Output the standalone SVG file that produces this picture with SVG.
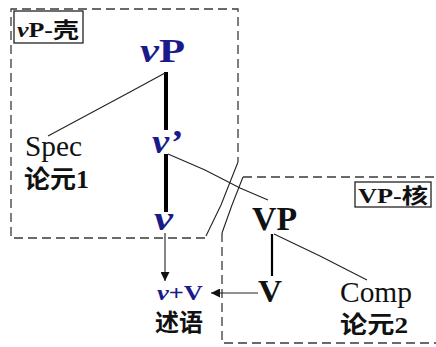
<svg xmlns="http://www.w3.org/2000/svg" width="436" height="347" viewBox="0 0 436 347">
<style>
.dash{fill:none;stroke:#3a3a3a;stroke-width:1.3;stroke-dasharray:9 5}
.edge{fill:none;stroke:#222;stroke-width:1.1}
.thick{fill:none;stroke:#000;stroke-width:4}
.mid{fill:none;stroke:#000;stroke-width:2.2}
.lab{fill:none;stroke:#222;stroke-width:1.3}
.t{font-family:"Liberation Serif","Noto Sans CJK SC",serif;fill:#111}
.navy{fill:#1a1a8a}
.b{font-weight:bold}
.i{font-style:italic}
.cjk{font-family:"Noto Sans CJK SC","Liberation Serif",sans-serif}
</style>
<defs>
<marker id="arr" markerUnits="userSpaceOnUse" markerWidth="9" markerHeight="9" refX="9" refY="4.5" orient="auto">
<path d="M0,0 L9,4.5 L0,9 z" fill="#111"/>
</marker>
</defs>
<rect width="436" height="347" fill="#fff"/>
<g id="shell-box">
<path class="dash" d="M205,238 H11 V9 H238 V162"/>
<path class="edge" d="M238,162 L221,205 L206,236"/>
<rect class="lab" x="14" y="11" width="69" height="32"/>
<text class="t b" x="17" y="37" font-size="21" textLength="62" lengthAdjust="spacingAndGlyphs"><tspan class="i">v</tspan>P-<tspan class="cjk">壳</tspan></text>
</g>
<g id="core-box">
<path class="dash" d="M243,177 H436 M222,233 V343 H436"/>
<path class="edge" d="M222,233 L232,205 L243,177"/>
<rect class="lab" x="355" y="182" width="76" height="25"/>
<text class="t b" x="358" y="203" font-size="21" textLength="70" lengthAdjust="spacingAndGlyphs">VP-<tspan class="cjk">核</tspan></text>
</g>
<g id="connectors">
<line class="thick" x1="166" y1="72" x2="166" y2="130"/>
<line class="thick" x1="166" y1="154" x2="166" y2="212"/>
<path class="edge" d="M165,73 L130,92 L48,136"/>
<path class="edge" d="M168,154 L205,170 L240,188 L268,200"/>
<line class="mid" x1="272" y1="234" x2="272" y2="276"/>
<path class="edge" d="M274,234 L320,256 L367,280"/>
<line class="edge" x1="165" y1="233" x2="165" y2="281" marker-end="url(#arr)"/>
<line class="edge" x1="258" y1="293" x2="211" y2="293" marker-end="url(#arr)"/>
</g>
<g id="vP">
<text class="t b navy" x="140" y="62" font-size="33" textLength="45" lengthAdjust="spacingAndGlyphs"><tspan class="i">v</tspan>P</text>
</g>
<g id="v-bar">
<text class="t b navy i" x="152" y="153" font-size="33" textLength="30" lengthAdjust="spacingAndGlyphs">v’</text>
</g>
<g id="v">
<text class="t b navy i" x="154" y="230" font-size="33" textLength="19" lengthAdjust="spacingAndGlyphs">v</text>
</g>
<g id="spec">
<text class="t" x="25" y="156" font-size="29" textLength="57" lengthAdjust="spacingAndGlyphs">Spec</text>
<text class="t b" x="24" y="188" font-size="25" textLength="65" lengthAdjust="spacingAndGlyphs"><tspan class="cjk">论元</tspan>1</text>
</g>
<g id="VP">
<text class="t b" x="252" y="230" font-size="34" textLength="45" lengthAdjust="spacingAndGlyphs">VP</text>
</g>
<g id="V">
<text class="t b" x="258" y="302" font-size="32" textLength="24" lengthAdjust="spacingAndGlyphs">V</text>
</g>
<g id="comp">
<text class="t" x="340" y="302" font-size="29" textLength="72" lengthAdjust="spacingAndGlyphs">Comp</text>
<text class="t b" x="340" y="333" font-size="24" textLength="68" lengthAdjust="spacingAndGlyphs"><tspan class="cjk">论元</tspan>2</text>
</g>
<g id="vV">
<text class="t b navy" x="157" y="300" font-size="22" textLength="46" lengthAdjust="spacingAndGlyphs"><tspan class="i">v</tspan>+V</text>
<text class="t cjk b" x="155" y="331" font-size="24" textLength="48" lengthAdjust="spacingAndGlyphs">述语</text>
</g>
</svg>
